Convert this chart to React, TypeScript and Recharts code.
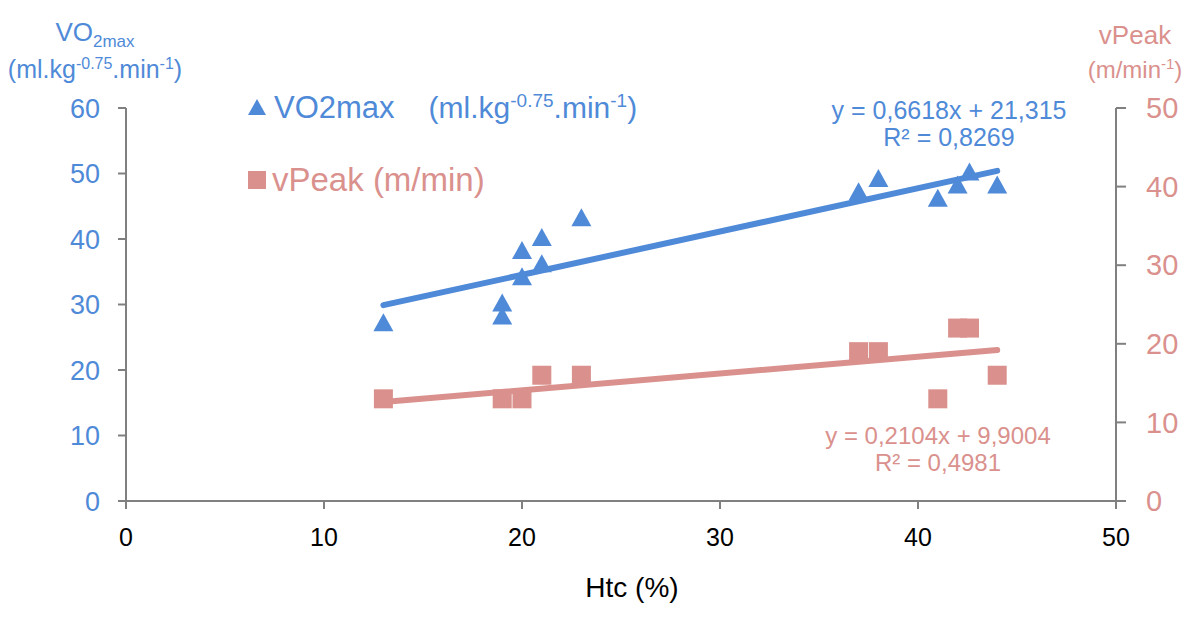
import React from "react"
import { ScatterChart, Scatter, XAxis, YAxis } from "recharts"

const BLUE = "#4f8ad8"
const PINK = "#da918d"
const AXIS = "#808080"
const FONT = "'Liberation Sans', Arial, Helvetica, sans-serif"

// Htc (%) for each subject
const htcVo2 = [13, 19, 19, 20, 20, 21, 21, 23, 37, 38, 41, 42, 42.6, 44]
const vo2max = [27, 30, 28, 38, 34, 40, 36, 43, 47, 49, 46, 48, 50, 48]

const htcPeak = [13, 19, 20, 21, 23, 37, 38, 41, 42, 42.6, 44]
const vPeak = [13, 13, 13, 16, 16, 19, 19, 13, 22, 22, 16]

// trendline end points
const vo2Trend = [
  { x: 13, y: 29.9 },
  { x: 44, y: 50.4 },
]
const peakTrend = [
  { x: 13, y: 12.6 },
  { x: 44, y: 19.2 },
]

const xTicks = [0, 10, 20, 30, 40, 50]
const leftTicks = [0, 10, 20, 30, 40, 50, 60]
const rightTicks = [0, 10, 20, 30, 40, 50]

const vo2Data = htcVo2.map((x, i) => ({ x, y: vo2max[i] }))
const peakData = htcPeak.map((x, i) => ({ x, y: vPeak[i] }))

function Triangle(props: any) {
  const { cx, cy } = props
  if (cx == null || cy == null) return <g />
  return <polygon points={`${cx},${cy - 11} ${cx + 10},${cy + 7} ${cx - 10},${cy + 7}`} fill={BLUE} />
}

function Square(props: any) {
  const { cx, cy } = props
  if (cx == null || cy == null) return <g />
  return <rect x={cx - 9.5} y={cy - 9.5} width={19} height={19} fill={PINK} />
}

const Nothing = () => <g />

const abs = (left: number, top: number, extra: React.CSSProperties = {}): React.CSSProperties => ({
  position: "absolute",
  left,
  top,
  whiteSpace: "nowrap",
  fontFamily: FONT,
  lineHeight: 1,
  ...extra,
})

export default function App() {
  return (
    <div style={{ position: "absolute", left: 0, top: 0, width: 1200, height: 617, background: "#fff" }}>
      <ScatterChart width={1200} height={617} margin={{ top: 108, right: 0, bottom: 66, left: 0 }}>
        <XAxis
          type="number"
          dataKey="x"
          domain={[0, 50]}
          ticks={xTicks}
          height={50}
          stroke={AXIS}
          strokeWidth={2}
          tickSize={8}
          tickMargin={19}
          tick={{ fill: "#000", fontSize: 25, fontFamily: FONT }}
        />
        <YAxis
          yAxisId="left"
          type="number"
          dataKey="y"
          domain={[0, 60]}
          ticks={leftTicks}
          width={126}
          stroke={AXIS}
          strokeWidth={2}
          tickSize={8}
          tickMargin={18}
          tick={{ fill: BLUE, fontSize: 27, fontFamily: FONT }}
        />
        <YAxis
          yAxisId="right"
          orientation="right"
          type="number"
          dataKey="y"
          domain={[0, 50]}
          ticks={rightTicks}
          width={84}
          stroke={AXIS}
          strokeWidth={2}
          tickSize={10}
          tickMargin={20}
          tick={{ fill: PINK, fontSize: 29, fontFamily: FONT }}
        />
        <Scatter
          yAxisId="left"
          data={vo2Trend}
          line={{ stroke: BLUE, strokeWidth: 6, strokeLinecap: "round" }}
          shape={Nothing}
          isAnimationActive={false}
        />
        <Scatter
          yAxisId="right"
          data={peakTrend}
          line={{ stroke: PINK, strokeWidth: 6, strokeLinecap: "round" }}
          shape={Nothing}
          isAnimationActive={false}
        />
        <Scatter yAxisId="left" data={vo2Data} shape={Triangle} isAnimationActive={false} />
        <Scatter yAxisId="right" data={peakData} shape={Square} isAnimationActive={false} />
      </ScatterChart>

      {/* left axis title */}
      <div style={abs(95, 19, { color: BLUE, fontSize: 26, transform: "translateX(-50%)" })}>
        VO<sub style={{ fontSize: 17 }}>2max</sub>
      </div>
      <div style={abs(95, 56, { color: BLUE, fontSize: 25, transform: "translateX(-50%)" })}>
        (ml.kg<sup style={{ fontSize: 16 }}>-0.75</sup>.min<sup style={{ fontSize: 16 }}>-1</sup>)
      </div>

      {/* right axis title */}
      <div style={abs(1135, 22, { color: PINK, fontSize: 26, transform: "translateX(-50%)" })}>vPeak</div>
      <div style={abs(1135, 56, { color: PINK, fontSize: 24, transform: "translateX(-50%)" })}>
        (m/min<sup style={{ fontSize: 15 }}>-1</sup>)
      </div>

      {/* x axis title */}
      <div style={abs(632, 574, { color: "#000", fontSize: 28, transform: "translateX(-50%)" })}>Htc (%)</div>

      {/* legend */}
      <div style={abs(248, 91, { color: BLUE, fontSize: 31, display: "flex", alignItems: "center" })}>
        <svg width={20} height={20} style={{ marginRight: 6 }}>
          <polygon points="9,2 18,18 0,18" fill={BLUE} />
        </svg>
        VO2max
        <span style={{ fontSize: 30, marginLeft: 34 }}>
          (ml.kg<sup style={{ fontSize: 19 }}>-0.75</sup>.min<sup style={{ fontSize: 19 }}>-1</sup>)
        </span>
      </div>
      <div style={abs(248, 163, { color: PINK, fontSize: 33, display: "flex", alignItems: "center" })}>
        <svg width={20} height={20} style={{ marginRight: 4 }}>
          <rect x={0} y={1} width={18} height={18} fill={PINK} />
        </svg>
        vPeak (m/min)
      </div>

      {/* trendline equations */}
      <div style={abs(949, 97, { color: BLUE, fontSize: 25, textAlign: "center", lineHeight: "27px", transform: "translateX(-50%)" })}>
        y = 0,6618x + 21,315
        <br />
        R² = 0,8269
      </div>
      <div style={abs(938, 422, { color: PINK, fontSize: 24, textAlign: "center", lineHeight: "27px", transform: "translateX(-50%)" })}>
        y = 0,2104x + 9,9004
        <br />
        R² = 0,4981
      </div>
    </div>
  )
}
